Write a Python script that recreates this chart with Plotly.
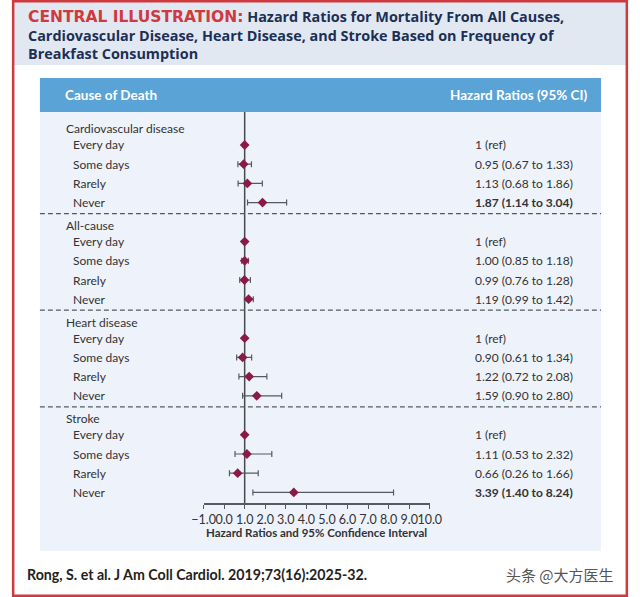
import plotly.graph_objects as go

# ---------------- data ----------------
groups = ["Cardiovascular disease", "All-cause", "Heart disease", "Stroke"]
frequencies = ["Every day", "Some days", "Rarely", "Never"]

hr_cvd = [1.0, 0.95, 1.13, 1.87]
lo_cvd = [None, 0.67, 0.68, 1.14]
hi_cvd = [None, 1.33, 1.86, 3.04]

hr_all = [1.0, 1.00, 0.99, 1.19]
lo_all = [None, 0.85, 0.76, 0.99]
hi_all = [None, 1.18, 1.28, 1.42]

hr_heart = [1.0, 0.90, 1.22, 1.59]
lo_heart = [None, 0.61, 0.72, 0.90]
hi_heart = [None, 1.34, 2.08, 2.80]

hr_stroke = [1.0, 1.11, 0.66, 3.39]
lo_stroke = [None, 0.53, 0.26, 1.40]
hi_stroke = [None, 2.32, 1.66, 8.24]

labels_cvd = ["1 (ref)", "0.95 (0.67 to 1.33)", "1.13 (0.68 to 1.86)", "1.87 (1.14 to 3.04)"]
labels_all = ["1 (ref)", "1.00 (0.85 to 1.18)", "0.99 (0.76 to 1.28)", "1.19 (0.99 to 1.42)"]
labels_heart = ["1 (ref)", "0.90 (0.61 to 1.34)", "1.22 (0.72 to 2.08)", "1.59 (0.90 to 2.80)"]
labels_stroke = ["1 (ref)", "1.11 (0.53 to 2.32)", "0.66 (0.26 to 1.66)", "3.39 (1.40 to 8.24)"]
significant = [[False, False, False, True], [False] * 4, [False] * 4, [False, False, False, True]]

x_ticks = [-1, 0, 1, 2, 3, 4, 5, 6, 7, 8, 9, 10]

title_text = (
    "<span style='color:#cf3a3e;font-family:DejaVu Sans;font-size:15.5px'>CENTRAL ILLUSTRATION:</span>"
    " Hazard Ratios for Mortality From All Causes,<br>"
    "Cardiovascular Disease, Heart Disease, and Stroke Based on Frequency of<br>"
    "Breakfast Consumption"
)

HR = [hr_cvd, hr_all, hr_heart, hr_stroke]
LO = [lo_cvd, lo_all, lo_heart, lo_stroke]
HI = [hi_cvd, hi_all, hi_heart, hi_stroke]
LAB = [labels_cvd, labels_all, labels_heart, labels_stroke]

# ---------------- layout constants ----------------
W, H = 640, 597
FONT = "Lato"
TXT = "#333333"
MAROON = "#8b1a47"
BAR = "#555a60"
PANEL = "#eef2fa"
HEADER = "#5aa3d7"
BAND = "#e2e8f2"
RED = "#cf3a3e"
NAVY = "#1c2f55"


def py(y):
    return 1 - y / H


def pxx(x):
    return x / W


AX_TOP, AX_BOT = 112, 503

ys, xs, em, ep = [], [], [], []
annotations = []
shapes = []

for g, name in enumerate(groups):
    gy = 129 + 96.6 * g
    annotations.append(dict(x=pxx(54), y=gy, xref="paper", yref="y", text=name,
                            showarrow=False, xanchor="left", yanchor="middle",
                            font=dict(family=FONT, size=12, color=TXT)))
    if g > 0:
        shapes.append(dict(type="line", xref="paper", yref="y", x0=pxx(29), x1=pxx(612),
                           y0=gy - 12, y1=gy - 12,
                           line=dict(color="#555a60", width=1.2, dash="5px,3px")))
    for i, f in enumerate(frequencies):
        ry = gy + 16 + 19.2 * i
        annotations.append(dict(x=pxx(61), y=ry, xref="paper", yref="y", text=f,
                                showarrow=False, xanchor="left", yanchor="middle",
                                font=dict(family=FONT, size=12, color=TXT)))
        t = LAB[g][i]
        if significant[g][i]:
            t = "<b>" + t + "</b>"
        annotations.append(dict(x=pxx(479), y=ry, xref="paper", yref="y", text=t,
                                showarrow=False, xanchor="left", yanchor="middle",
                                font=dict(family=FONT, size=12, color=TXT)))
        hr = HR[g][i]
        lo = LO[g][i]
        hi = HI[g][i]
        xs.append(hr)
        ys.append(ry)
        ep.append(None if hi is None else hi - hr)
        em.append(None if lo is None else hr - lo)

fig = go.Figure()
fig.add_trace(go.Scatter(
    x=xs, y=ys, mode="markers",
    marker=dict(symbol="diamond", size=7.5, color=MAROON),
    error_x=dict(type="data", symmetric=False, array=ep, arrayminus=em,
                 color=BAR, thickness=1.2, width=3),
    showlegend=False, hoverinfo="x", cliponaxis=False,
))

bg_shapes = [
    dict(type="rect", xref="paper", yref="paper", x0=0, x1=1, y0=py(65), y1=1,
         fillcolor=BAND, line=dict(width=0), layer="below"),
    dict(type="rect", xref="paper", yref="paper", x0=pxx(29), x1=pxx(612), y0=py(551), y1=py(112),
         fillcolor=PANEL, line=dict(width=0), layer="below"),
    dict(type="rect", xref="paper", yref="paper", x0=pxx(29), x1=pxx(612), y0=py(112), y1=py(78),
         fillcolor=HEADER, line=dict(width=0), layer="below"),
    dict(type="line", xref="x", yref="y", x0=1, x1=1, y0=AX_TOP, y1=AX_BOT,
         line=dict(color="#444a50", width=1.5), layer="below"),
    dict(type="rect", xref="paper", yref="paper", x0=pxx(1.2), x1=pxx(638.8), y0=py(595.8), y1=py(1.2),
         line=dict(color=RED, width=2.5), fillcolor="rgba(0,0,0,0)", layer="above"),
]
shapes = bg_shapes + shapes

annotations += [
    dict(x=pxx(15), y=py(35), xref="paper", yref="paper", text=title_text,
         showarrow=False, xanchor="left", yanchor="middle", align="left",
         font=dict(family="Open Sans", size=14.4, color=NAVY, weight="bold")),
    dict(x=pxx(53), y=py(95), xref="paper", yref="paper", text="Cause of Death",
         showarrow=False, xanchor="left", yanchor="middle",
         font=dict(family=FONT, size=13.5, color="white", weight="bold")),
    dict(x=pxx(600), y=py(95), xref="paper", yref="paper", text="Hazard Ratios (95% CI)",
         showarrow=False, xanchor="right", yanchor="middle",
         font=dict(family=FONT, size=13.5, color="white", weight="bold")),
    dict(x=pxx(316.5), y=py(532), xref="paper", yref="paper",
         text="Hazard Ratios and 95% Confidence Interval",
         showarrow=False, xanchor="center", yanchor="middle",
         font=dict(family=FONT, size=11.5, color=TXT, weight="bold")),
    dict(x=pxx(14), y=py(574), xref="paper", yref="paper",
         text="Rong, S. et al. J Am Coll Cardiol. 2019;73(16):2025-32.",
         showarrow=False, xanchor="left", yanchor="middle",
         font=dict(family=FONT, size=14.2, color="#222222", weight="bold")),
    dict(x=pxx(628), y=py(574), xref="paper", yref="paper",
         text="头条 @大方医生",
         showarrow=False, xanchor="right", yanchor="middle",
         font=dict(family="Noto Sans CJK SC", size=15, color="#555555")),
]

fig.update_layout(
    width=W, height=H,
    margin=dict(l=0, r=0, t=0, b=0),
    paper_bgcolor="white",
    plot_bgcolor="rgba(0,0,0,0)",
    shapes=shapes,
    annotations=annotations,
    xaxis=dict(domain=[pxx(199), pxx(434)], range=[-1, 10], tickvals=x_ticks,
               tickformat=".1f", tickangle=0, showgrid=False, zeroline=False,
               showline=True, linecolor="#555a60", linewidth=1.5,
               ticks="outside", ticklen=4, tickcolor="#555a60", tickwidth=1.2,
               tickfont=dict(family=FONT, size=12.5, color=TXT), fixedrange=True),
    yaxis=dict(domain=[py(AX_BOT), py(AX_TOP)], range=[AX_BOT, AX_TOP],
               visible=False, showgrid=False, zeroline=False, fixedrange=True),
)

fig.write_html("out.html", config={"displayModeBar": False},
               post_script="document.body.style.margin='0px';")
